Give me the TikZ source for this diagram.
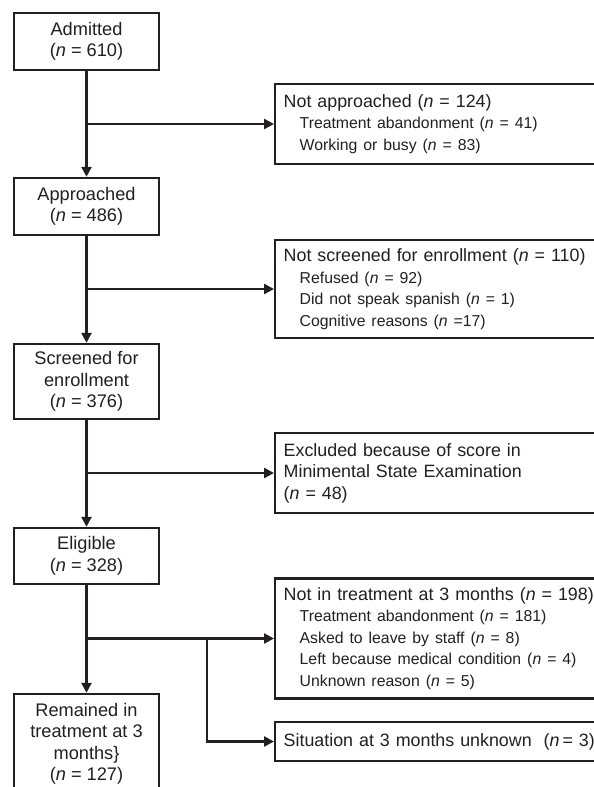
\documentclass[tikz,border=0pt]{standalone}
\usepackage{fontspec}
\setmainfont{Liberation Sans}
\usetikzlibrary{arrows.meta,calc}
\definecolor{ink}{HTML}{231F20}
\newcommand{\subl}[1]{{\fontsize{15.8}{21.5}\selectfont\hspace*{16pt}#1}}
\begin{document}
\begin{tikzpicture}[x=1pt,y=-1pt,
  box/.style={draw=ink, line width=2.4pt, rectangle, inner sep=0pt, text=ink},
  mainbox/.style={box, minimum width=145pt, align=center, font=\fontsize{18.2}{21.5}\selectfont},
  sidebox/.style={box, inner xsep=8.5pt, text width=340pt, align=left, font=\fontsize{17.85}{21.5}\selectfont, anchor=west},
  arr/.style={draw=ink, line width=2.4pt, -{Triangle[length=10pt,width=10pt]}},
]
\useasboundingbox (0,0) rectangle (594,787);
\clip (0,0) rectangle (594,787);
\fill[white] (0,0) rectangle (594,787);

% main column
\node[mainbox, minimum height=57pt] (adm) at (86.5,41.5) {Admitted\\(\textit{n} = 610)};
\node[mainbox, minimum height=57pt] (appr) at (86.5,206.5) {Approached\\(\textit{n} = 486)};
\node[mainbox, minimum height=75pt] (scr) at (86.5,381.5) {Screened for\\enrollment\\(\textit{n} = 376)};
\node[mainbox, minimum height=56pt] (elig) at (86.5,556) {Eligible\\(\textit{n} = 328)};
\node[mainbox, minimum height=100pt] (rem) at (86.5,744) {Remained in\\treatment at 3\\months\}\\(\textit{n} = 127)};

% side boxes
\node[sidebox, minimum height=80pt] (nappr) at (274,124) {Not approached (\textit{n} = 124)\\
  \subl{Treatment abandonment (\textit{n} = 41)}\\
  \subl{Working or busy (\textit{n} = 83)}};
\node[sidebox, minimum height=98pt] (nscr) at (274,289) {Not screened for enrollment (\textit{n} = 110)\\
  \subl{Refused (\textit{n} = 92)}\\
  \subl{Did not speak spanish (\textit{n} = 1)}\\
  \subl{Cognitive reasons (\textit{n} =17)}};
\node[sidebox, minimum height=80pt] (excl) at (274,473) {Excluded because of score in\\Minimental State Examination\\(\textit{n} = 48)};
\node[sidebox, minimum height=120pt] (nint) at (274,638.5) {Not in treatment at 3 months (\textit{n} = 198)\\
  \subl{Treatment abandonment (\textit{n} = 181)}\\
  \subl{Asked to leave by staff (\textit{n} = 8)}\\
  \subl{Left because medical condition (\textit{n} = 4)}\\
  \subl{Unknown reason (\textit{n} = 5)}};
\node[sidebox, minimum height=39pt] (sit) at (274,741.5) {Situation at 3 months unknown\ \ (\textit{n}\,= 3)};

% connectors
\draw[arr] (adm.south) -- (appr.north);
\draw[arr] (nappr.west -| adm.south) -- (nappr.west);
\draw[arr] (appr.south) -- (scr.north);
\draw[arr] (nscr.west -| appr.south) -- (nscr.west);
\draw[arr] (scr.south) -- (excl.west -| scr.south) -- (elig.north);
\draw[arr] (excl.west -| scr.south) -- (excl.west);
\draw[arr] (elig.south) -- (rem.north);
\draw[arr] (nint.west -| elig.south) -- (nint.west);
\coordinate (j) at (207,638.5);
\draw[arr] (j) |- (sit.west);
\end{tikzpicture}
\end{document}
